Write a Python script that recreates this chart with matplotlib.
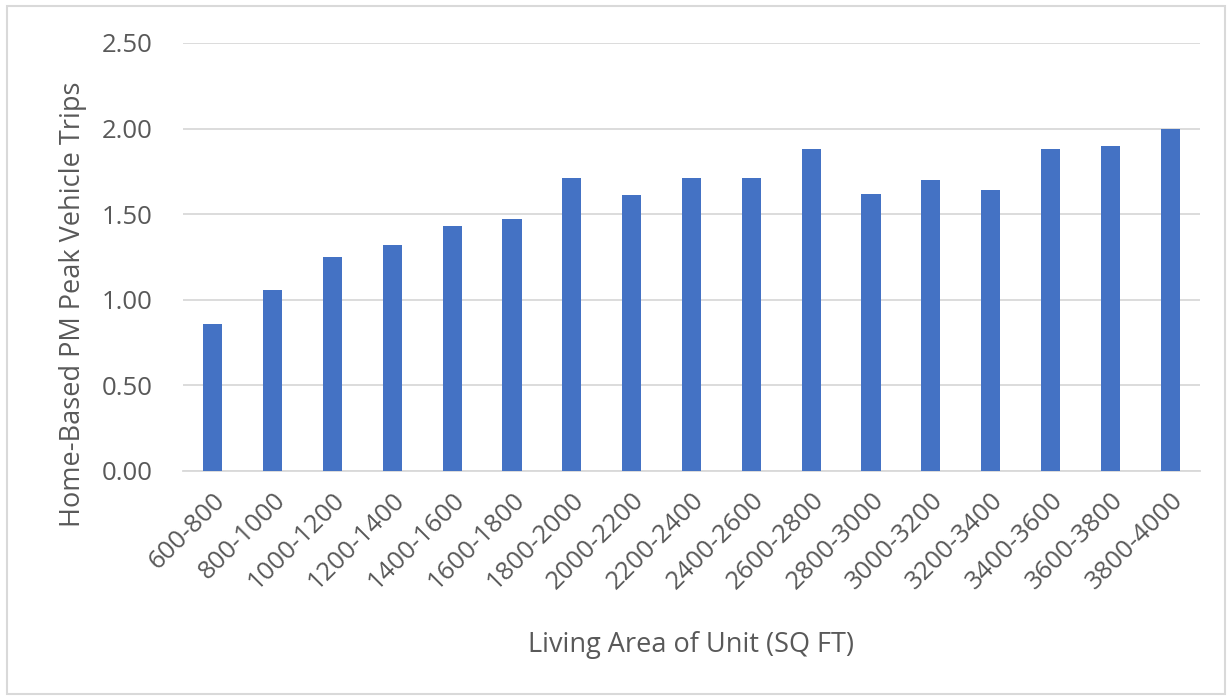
import matplotlib
matplotlib.use("Agg")
import matplotlib.pyplot as plt
from matplotlib.patches import Rectangle

# Trip rates by living area bin
AREA_BINS = ["600-800", "800-1000", "1000-1200", "1200-1400", "1400-1600",
             "1600-1800", "1800-2000", "2000-2200", "2200-2400", "2400-2600",
             "2600-2800", "2800-3000", "3000-3200", "3200-3400", "3400-3600",
             "3600-3800", "3800-4000"]
PM_TRIPS = [0.86, 1.06, 1.25, 1.32, 1.43, 1.47, 1.71, 1.61, 1.71, 1.71,
            1.88, 1.62, 1.70, 1.64, 1.88, 1.90, 2.00]
Y_TICKS = [0.0, 0.5, 1.0, 1.5, 2.0, 2.5]

TEXT = "#595959"
BAR = "#4472C4"
GRID = "#D9D9D9"

plt.rcParams['font.family'] = ['Open Sans', 'DejaVu Sans']

fig = plt.figure(figsize=(12.32, 6.98), dpi=100)
ax = fig.add_axes([183 / 1232, 1 - 471 / 698, (1200 - 183) / 1232, (471 - 43) / 698])

x = range(len(AREA_BINS))
ax.bar(x, PM_TRIPS, width=0.32, color=BAR, zorder=3)

ax.set_xlim(-0.5, len(AREA_BINS) - 0.5)
ax.set_ylim(0, 2.5)
ax.set_yticks(Y_TICKS)
ax.set_yticklabels([f"{v:.2f}" for v in Y_TICKS])
ax.set_xticks(list(x))
ax.set_xticklabels(AREA_BINS, rotation=45, ha='right', rotation_mode='anchor')

ax.yaxis.grid(True, color=GRID, linewidth=1.3, zorder=0)
for s in ['top', 'right', 'left']:
    ax.spines[s].set_visible(False)
ax.spines['bottom'].set_color(GRID)
ax.spines['bottom'].set_linewidth(1.3)
ax.tick_params(axis='both', length=0, labelsize=18.5, colors=TEXT)
ax.tick_params(axis='x', pad=12)
ax.tick_params(axis='y', pad=22)

ax.set_xlabel("Living Area of Unit (SQ FT)", fontsize=19.5, color=TEXT, labelpad=26)
ax.set_ylabel("Home-Based PM Peak Vehicle Trips", fontsize=19.5, color=TEXT)
# Excel centres the title on the whole plot area, so it sits a bit lower
ax.yaxis.set_label_coords(-96 / 1017, 0.39)

# light outer border like the chart area frame
fig.patches.append(Rectangle((0.006, 0.006), 0.988, 0.985, transform=fig.transFigure,
                             fill=False, edgecolor="#D9D9D9", linewidth=1.5))

fig.savefig("out.png", dpi=100, facecolor="white")
